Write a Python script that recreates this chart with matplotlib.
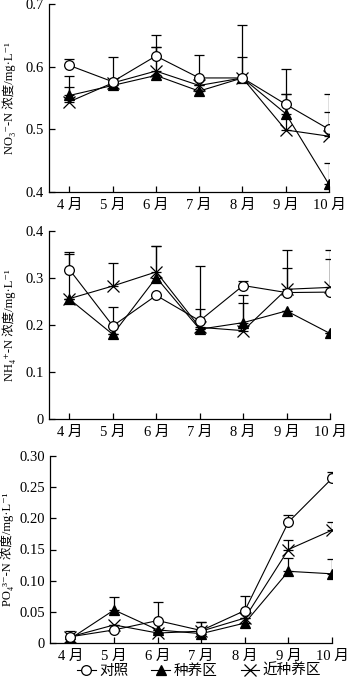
import numpy as np
import matplotlib
matplotlib.use("Agg")
import matplotlib.pyplot as plt
from matplotlib.lines import Line2D

plt.rcParams['font.family'] = ['Liberation Serif', 'Noto Sans CJK SC', 'DejaVu Serif']

months = ["4 月", "5 月", "6 月", "7 月", "8 月", "9 月", "10 月"]
series_names = ["对照", "种养区", "近种养区"]

# NO3--N
no3_ck = [0.602, 0.576, 0.617, 0.582, 0.582, 0.540, 0.500]
no3_ck_err = [0.011, 0.040, 0.034, 0.037, 0.085, 0.057, 0.057]
no3_zy = [0.554, 0.570, 0.586, 0.561, 0.582, 0.525, 0.412]
no3_zy_err = [0.031, 0.0, 0.045, 0.0, 0.033, 0.032, 0.034]
no3_jz = [0.544, 0.574, 0.593, 0.570, 0.582, 0.499, 0.489]
no3_jz_err = [0.024, 0.0, 0.038, 0.0, 0.0, 0.058, 0.038]

# NH4+-N
nh4_ck = [0.318, 0.198, 0.263, 0.209, 0.284, 0.269, 0.270]
nh4_ck_err = [0.034, 0.041, 0.0, 0.026, 0.009, 0.052, 0.071]
nh4_zy = [0.255, 0.180, 0.301, 0.191, 0.205, 0.230, 0.182]
nh4_zy_err = [0.0, 0.0, 0.068, 0.0, 0.041, 0.0, 0.0]
nh4_jz = [0.256, 0.283, 0.313, 0.195, 0.188, 0.276, 0.280]
nh4_jz_err = [0.099, 0.049, 0.056, 0.130, 0.075, 0.084, 0.080]

# PO43--N
po4_ck = [0.010, 0.021, 0.036, 0.020, 0.052, 0.194, 0.264]
po4_ck_err = [0.010, 0.0, 0.029, 0.013, 0.024, 0.011, 0.010]
po4_zy = [0.007, 0.053, 0.021, 0.015, 0.032, 0.115, 0.111]
po4_zy_err = [0.0, 0.020, 0.0, 0.0, 0.0, 0.022, 0.023]
po4_jz = [0.010, 0.029, 0.016, 0.019, 0.040, 0.150, 0.181]
po4_jz_err = [0.0, 0.0, 0.0, 0.014, 0.0, 0.016, 0.013]

panels = [
    ("NO₃⁻-N 浓度/mg·L⁻¹",
     [(no3_ck, no3_ck_err), (no3_zy, no3_zy_err), (no3_jz, no3_jz_err)],
     (0.4, 0.7), [0.4, 0.5, 0.6, 0.7], ["0.4", "0.5", "0.6", "0.7"]),
    ("NH₄⁺-N 浓度/mg·L⁻¹",
     [(nh4_ck, nh4_ck_err), (nh4_zy, nh4_zy_err), (nh4_jz, nh4_jz_err)],
     (0, 0.4), [0, 0.1, 0.2, 0.3, 0.4], ["0", "0.1", "0.2", "0.3", "0.4"]),
    ("PO₄³⁻-N 浓度/mg·L⁻¹",
     [(po4_ck, po4_ck_err), (po4_zy, po4_zy_err), (po4_jz, po4_jz_err)],
     (0, 0.30), [0, 0.05, 0.10, 0.15, 0.20, 0.25, 0.30],
     ["0", "0.05", "0.10", "0.15", "0.20", "0.25", "0.30"]),
]

W, H = 349, 685
# axes boxes in pixels: left, top, right, bottom, ylabel x
boxes = [(49, 4, 329, 192, 16), (49, 231, 330, 419, 16), (50, 456, 332, 643, 14)]

styles = [
    dict(marker='o', mfc='white', mec='black', ms=7, mew=0.9, zorder=4),
    dict(marker='^', mfc='black', mec='black', ms=7, mew=0.9, zorder=3),
    dict(marker='x', mfc='none', mec='black', ms=8, mew=0.9, zorder=3),
]

fig = plt.figure(figsize=(W / 100, H / 100), dpi=100)
x = np.arange(len(months))

for (ylabel, data, ylim, yt, ytl), (l, t, r, b, lx) in zip(panels, boxes):
    ax = fig.add_axes([l / W, 1 - b / H, (r - l) / W, (b - t) / H])
    for (vals, err), st in zip(data, styles):
        vals = np.array(vals)
        err = np.array(err)
        ax.errorbar(x, vals, yerr=[np.zeros_like(err), err], fmt='none',
                    ecolor='black', elinewidth=0.9, capsize=3.5, capthick=0.9,
                    zorder=2)
        ax.plot(x, vals, color='black', lw=0.8, **st)
    ax.set_xlim(-0.47, 6)
    ax.set_ylim(*ylim)
    ax.set_yticks(yt)
    ax.set_yticklabels(ytl)
    ax.set_xticks(x)
    ax.set_xticklabels(months)
    ax.spines['top'].set_visible(False)
    ax.spines['right'].set_visible(False)
    ax.spines['left'].set_linewidth(0.9)
    ax.spines['bottom'].set_linewidth(0.9)
    ax.tick_params(direction='in', length=4, width=0.9, labelsize=10.5)
    ax.tick_params(axis='x', pad=5)
    ax.set_ylabel(ylabel, fontsize=9)
    ax.yaxis.set_label_coords((lx - l) / (r - l), 0.5)

handles = [Line2D([], [], color='black', lw=0.8, **{k: v for k, v in st.items() if k != 'zorder'})
           for st in styles]
fig.legend(handles, series_names, loc='center', bbox_to_anchor=(0.57, 1 - 671 / H),
           ncol=3, frameon=False, fontsize=10.5, handlelength=1.3, handletextpad=0.2,
           columnspacing=1.6, borderaxespad=0)

fig.savefig("out.png", dpi=100)
